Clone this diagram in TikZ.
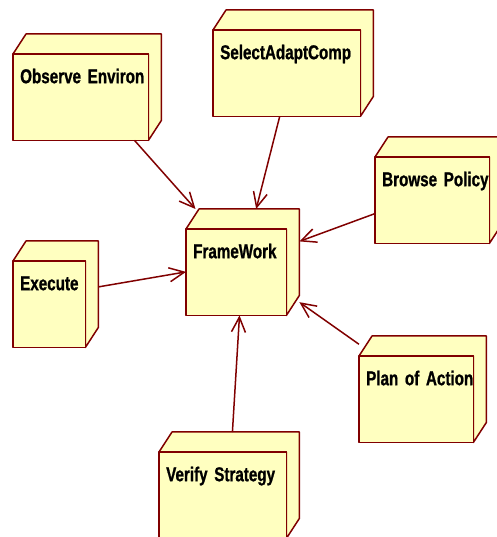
\documentclass[tikz,border=0pt]{standalone}
\usepackage{fontspec}
\newfontfamily\devfont{Liberation Sans}[FakeStretch=0.76,FakeBold=1]
\newcommand\devtext{\devfont\bfseries\fontsize{20}{24}\selectfont\fontdimen2\font=2pt\relax}
\usetikzlibrary{calc,arrows.meta,backgrounds}
\definecolor{devline}{RGB}{128,0,0}
\definecolor{devfill}{RGB}{255,255,192}

\begin{document}
\begin{tikzpicture}[x=1pt,y=1pt,
  dev/.style={anchor=north west,inner xsep=7pt,inner ysep=0pt,
    text height=49pt,text depth=57pt,align=left,font=\devtext},
  face/.style={draw=devline,fill=devfill,line width=1.5pt,line join=round},
  uses/.style={draw=devline,line width=1.5pt,-{Straight Barb[length=15pt,width=14pt,line width=1.5pt]}}]
\useasboundingbox (0,0) rectangle (496,537);

\node[dev,text width=134pt] (obs) at (13,503) {Observe Environ};
\node[dev,text width=146pt] (sel) at (213,527) {SelectAdaptComp};
\node[dev,text width=113pt] (brw) at (375,400) {Browse Policy};
\node[dev,text width=71pt] (exe) at (13,296) {Execute};
\node[dev,text width=99pt] (frm) at (186,328) {FrameWork};
\node[dev,text width=113pt] (pln) at (359,201) {Plan of Action};
\node[dev,text width=126pt] (ver) at (159,105) {Verify Strategy};

%\draw (obs.north west) rectangle (obs.south east);
\begin{scope}[on background layer]
\foreach \n in {obs,sel,brw,exe,frm,pln,ver}{
  \draw[face] ($(\n.north west)+(0,-20)$) -- ($(\n.north west)+(13,0)$) -- (\n.north east)
    -- ($(\n.south east)+(0,20)$) -- ($(\n.south east)+(-13,0)$) -- ($(\n.north east)+(-13,-20)$) -- cycle;
  \draw[face] (\n.south west) rectangle ($(\n.north east)+(-13,-20)$);
}
\end{scope}

\foreach \n in {obs,sel,brw,exe,pln,ver}
  \draw[uses] (\n) -- (frm);

\end{tikzpicture}
\end{document}
